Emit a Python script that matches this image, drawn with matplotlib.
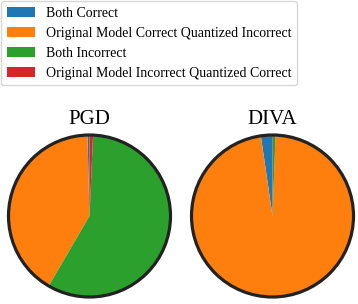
import matplotlib
matplotlib.use("Agg")
import matplotlib.pyplot as plt
from matplotlib.patches import Circle

plt.rcParams['font.family'] = ['Liberation Serif', 'DejaVu Serif']

labels = ["Both Correct",
          "Original Model Correct Quantized Incorrect",
          "Both Incorrect",
          "Original Model Incorrect Quantized Correct"]
colors = ["#1f77b4", "#ff7f0e", "#2ca02c", "#d62728"]

titles = ["PGD", "DIVA"]
# share of samples in each outcome (percent)
pgd_vals = [0.4, 41.2, 57.7, 0.7]
diva_vals = [2.3, 97.1, 0.5, 0.1]

W, H = 358, 304
fig = plt.figure(figsize=(W / 100, H / 100), dpi=100)

centers = [(89.5, 216), (272.5, 216)]
r = 81
for (cx, cy), title, vals in zip(centers, titles, [pgd_vals, diva_vals]):
    ax = fig.add_axes([(cx - r) / W, (H - cy - r) / H, 2 * r / W, 2 * r / H])
    wedges, _ = ax.pie(vals, colors=colors, startangle=90, radius=1)
    ax.add_patch(Circle((0, 0), 1, fill=False, edgecolor="#222222",
                        linewidth=2.3, clip_on=False, zorder=5))
    ax.set_xlim(-1, 1)
    ax.set_ylim(-1, 1)
    ax.set_aspect("equal")
    ax.set_title(title, fontsize=15, pad=8)

fig.legend(wedges, labels, loc="upper left", bbox_to_anchor=(0, 1),
           fontsize=10, borderaxespad=0.1)

fig.savefig("out.png", dpi=100)
